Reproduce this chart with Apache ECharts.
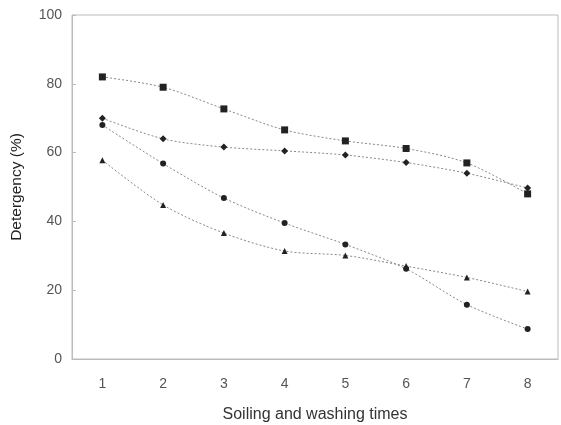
<!DOCTYPE html>
<html>
<head>
<meta charset="utf-8">
<script src="https://cdn.jsdelivr.net/npm/echarts@6/dist/echarts.min.js"></script>
<style>
  html, body { margin: 0; padding: 0; background: #fff; }
  #chart { width: 561px; height: 425px; }
</style>
</head>
<body>
<div id="chart"></div>
<script>
const categories = ["1", "2", "3", "4", "5", "6", "7", "8"];
const squareVals = [82, 79, 72.7, 66.6, 63.4, 61.2, 57, 48];
const diamondVals = [70, 64, 61.6, 60.5, 59.3, 57.1, 54, 49.7];
const circleVals = [68, 56.8, 46.8, 39.5, 33.3, 26.2, 15.8, 8.7];
const triangleVals = [57.8, 44.8, 36.6, 31.4, 30.1, 27, 23.7, 19.6];

const lineStyle = { color: "#888", width: 1, type: [2, 2] };
const markColor = "#222";

function makeSeries(name, data, symbol, size) {
  return {
    name: name,
    type: "line",
    data: data,
    smooth: 0.3,
    symbol: symbol,
    symbolSize: size,
    lineStyle: lineStyle,
    itemStyle: { color: markColor },
  };
}

const chart = echarts.init(document.getElementById("chart"));
chart.setOption({
  animation: false,
  textStyle: { fontFamily: "Arial, Liberation Sans, sans-serif" },
  grid: {
    left: 72, right: 3, top: 15, bottom: 66,
    outerBoundsMode: "none",
    show: true, borderColor: "#bbb", borderWidth: 1,
  },
  xAxis: {
    type: "category",
    data: categories,
    boundaryGap: true,
    name: "Soiling and washing times",
    nameLocation: "middle",
    nameGap: 48,
    nameTextStyle: { fontSize: 16, color: "#333" },
    axisLine: { lineStyle: { color: "#bbb" } },
    axisTick: { inside: true, length: 4, lineStyle: { color: "#bbb" } },
    axisLabel: { fontSize: 14, color: "#555", margin: 18 },
  },
  yAxis: {
    type: "value",
    min: 0,
    max: 100,
    interval: 20,
    name: "Detergency (%)",
    nameLocation: "middle",
    nameGap: 47,
    nameTextStyle: { fontSize: 15.5, color: "#222" },
    axisLine: { show: true, lineStyle: { color: "#bbb" } },
    axisTick: { show: true, inside: true, length: 4, lineStyle: { color: "#bbb" } },
    axisLabel: { fontSize: 14, color: "#555", margin: 10 },
    splitLine: { show: false },
  },
  series: [
    makeSeries("square", squareVals, "rect", 7),
    makeSeries("diamond", diamondVals, "diamond", 7),
    makeSeries("circle", circleVals, "circle", 6),
    makeSeries("triangle", triangleVals, "triangle", 6),
  ],
});
</script>
</body>
</html>
